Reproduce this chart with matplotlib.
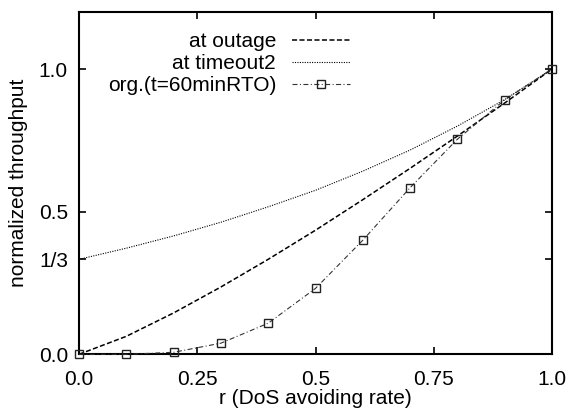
import matplotlib
matplotlib.use("Agg")
import matplotlib.pyplot as plt

plt.rcParams['font.family'] = ['Liberation Sans', 'DejaVu Sans']

r = [0.0, 0.1, 0.2, 0.3, 0.4, 0.5, 0.6, 0.7, 0.8, 0.9, 1.0]
at_outage = [0.0, 0.063, 0.145, 0.236, 0.333, 0.435, 0.542, 0.652, 0.765, 0.881, 1.0]
at_timeout2 = [0.333, 0.372, 0.415, 0.463, 0.517, 0.575, 0.642, 0.716, 0.800, 0.893, 1.0]
org_60min = [0.0, 0.0, 0.007, 0.039, 0.109, 0.231, 0.400, 0.584, 0.754, 0.892, 1.0]

xticks = [0.0, 0.25, 0.5, 0.75, 1.0]
xticklabels = ['0.0', '0.25', '0.5', '0.75', '1.0']
yticks = [0.0, 1/3, 0.5, 1.0]
yticklabels = ['0.0', '1/3', '0.5', '1.0']

fig = plt.figure(figsize=(5.67, 4.08), dpi=100)
ax = fig.add_axes([79/567, (408-354.3)/408, 473/567, 342.3/408])

ax.plot(r, at_outage, color='black', linestyle=(0, (3.3, 1.6)), linewidth=1.1, label='at outage')
ax.plot(r, at_timeout2, color='black', linestyle=(0, (1, 1.2)), linewidth=0.8, label='at timeout2')
ax.plot(r, org_60min, color='#333333', linestyle=(0, (4.5, 2.2, 0.9, 2.2)), linewidth=0.8,
        marker='s', markersize=6, markerfacecolor='none', markeredgecolor='#222222',
        markeredgewidth=1.0, label='org.(t=60minRTO)', clip_on=False, zorder=5)

ax.set_xlim(0, 1)
ax.set_ylim(0, 1.2)
ax.set_xticks(xticks)
ax.set_xticklabels(xticklabels)
ax.set_yticks(yticks)
ax.set_yticklabels(yticklabels)
ax.tick_params(direction='in', length=5, width=1.2, top=True, right=True,
               labelsize=15)
ax.tick_params(axis='x', pad=11)
ax.tick_params(axis='y', pad=8)
for s in ax.spines.values():
    s.set_linewidth(1.5)

ax.set_xlabel('r (DoS avoiding rate)', fontsize=15, labelpad=0)
ax.set_ylabel('normalized throughput', fontsize=15, labelpad=8)

leg = ax.legend(loc='upper right', bbox_to_anchor=(0.573, 0.942), frameon=False,
                markerfirst=False, fontsize=15, handlelength=2.8, handletextpad=0.75,
                labelspacing=0.15, borderpad=0, borderaxespad=0)

fig.savefig('out.png', dpi=100)
